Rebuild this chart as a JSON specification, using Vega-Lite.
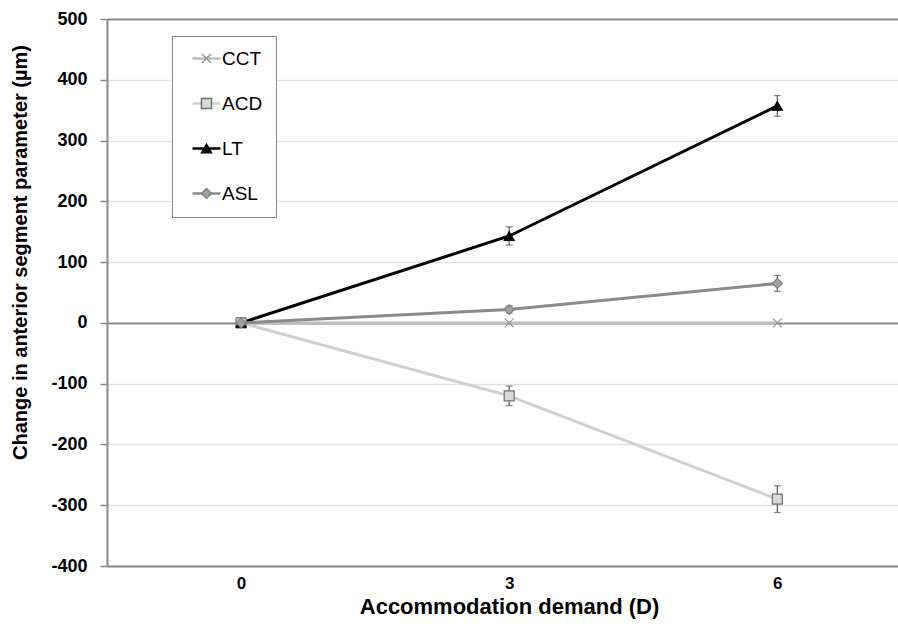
{
  "$schema": "https://vega.github.io/schema/vega-lite/v6.json",
  "width": 791,
  "height": 547,
  "autosize": {"type": "none"},
  "padding": {"left": 107, "top": 19, "right": 0, "bottom": 76},
  "background": "white",
  "data": {
    "values": [
      {"series": "CCT", "demand": 0, "value": 0, "err": 0},
      {"series": "CCT", "demand": 3, "value": 0, "err": 0},
      {"series": "CCT", "demand": 6, "value": 0, "err": 0},
      {"series": "ACD", "demand": 0, "value": 0, "err": 0},
      {"series": "ACD", "demand": 3, "value": -120, "err": 16},
      {"series": "ACD", "demand": 6, "value": -290, "err": 22},
      {"series": "LT", "demand": 0, "value": 0, "err": 0},
      {"series": "LT", "demand": 3, "value": 143, "err": 15},
      {"series": "LT", "demand": 6, "value": 357, "err": 17},
      {"series": "ASL", "demand": 0, "value": 0, "err": 0},
      {"series": "ASL", "demand": 3, "value": 22, "err": 6},
      {"series": "ASL", "demand": 6, "value": 65, "err": 13}
    ]
  },
  "config": {
    "view": {"stroke": null},
    "font": "Liberation Sans",
    "legend": {
      "orient": "none",
      "legendX": 65,
      "legendY": 17,
      "padding": 13,
      "symbolOffset": 12,
      "labelOffset": 6,
      "labelFont": "Liberation Sans",
      "labelFontSize": 19,
      "labelColor": "black",
      "rowPadding": 25,
      "symbolSize": 100,
      "symbolStrokeWidth": 1.5
    }
  },
  "encoding": {
    "x": {
      "field": "demand",
      "type": "quantitative",
      "scale": {"domain": [-1.5, 7.35], "nice": false, "zero": false},
      "axis": {
        "values": [0, 3, 6],
        "ticks": false,
        "grid": false,
        "domainColor": "#888888",
        "domainWidth": 2,
        "labelFont": "Liberation Sans",
        "labelFontSize": 17,
        "labelFontWeight": "bold",
        "labelColor": "black",
        "labelPadding": 9,
        "labelFlush": false,
        "title": "Accommodation demand (D)",
        "titleFont": "Liberation Sans",
        "titleFontSize": 22,
        "titleFontWeight": "bold",
        "titleColor": "black",
        "titlePadding": 5,
        "titleX": 402
      }
    },
    "y": {
      "field": "value",
      "type": "quantitative",
      "scale": {"domain": [-400, 500], "nice": false},
      "axis": {
        "values": [-400, -300, -200, -100, 0, 100, 200, 300, 400, 500],
        "labelExpr": "'' + datum.value",
        "grid": true,
        "gridColor": {"condition": {"test": "datum.value === 0 || datum.value === 500", "value": "#8a8a8a"}, "value": "#e2e2e2"},
        "gridWidth": {"condition": {"test": "datum.value === 0 || datum.value === 500", "value": 2}, "value": 1.5},
        "tickColor": "#888888",
        "tickSize": 7,
        "tickWidth": 1.5,
        "domainColor": "#888888",
        "domainWidth": 2,
        "labelFont": "Liberation Sans",
        "labelFontSize": 18,
        "labelFontWeight": "bold",
        "labelColor": "black",
        "labelPadding": 13,
        "title": "Change in anterior segment parameter (µm)",
        "titleFont": "Liberation Sans",
        "titleFontSize": 20,
        "titleFontWeight": "bold",
        "titleColor": "black",
        "titlePadding": 20,
        "titleY": 233
      }
    }
  },
  "layer": [
    {
      "mark": {"type": "line", "strokeWidth": 3},
      "encoding": {
        "color": {
          "field": "series",
          "type": "nominal",
          "scale": {"domain": ["LT", "ASL", "CCT", "ACD"], "range": ["#000000", "#8a8a8a", "#bdbdbd", "#d0d0d0"]},
          "legend": {
            "title": null,
            "values": ["CCT", "ACD", "LT", "ASL"],
            "labelExpr": "datum.label + '    '",
            "symbolType": "M-2.8,0H2.8",
            "symbolStrokeWidth": 2.5,
            "fillColor": "white",
            "strokeColor": "#888888"
          }
        }
      }
    },
    {
      "transform": [{"filter": "datum.err > 0"}],
      "mark": {"type": "errorbar", "ticks": {"size": 7}, "color": "#555555", "thickness": 1.2},
      "encoding": {
        "yError": {"field": "err"}
      }
    },
    {
      "mark": {"type": "point", "opacity": 1, "size": 100, "strokeWidth": 1.2},
      "encoding": {
        "shape": {
          "field": "series",
          "type": "nominal",
          "scale": {"domain": ["CCT", "ACD", "LT", "ASL"], "range": ["M-0.9,-0.9L0.9,0.9M-0.9,0.9L0.9,-0.9", "square", "triangle-up", "diamond"]},
          "legend": {"title": null, "labelOpacity": 0}
        },
        "fill": {
          "field": "series",
          "type": "nominal",
          "scale": {"domain": ["CCT", "ACD", "LT", "ASL"], "range": ["transparent", "#d9d9d9", "#000000", "#a0a0a0"]},
          "legend": {"title": null, "labelOpacity": 0}
        },
        "stroke": {
          "field": "series",
          "type": "nominal",
          "scale": {"domain": ["CCT", "ACD", "LT", "ASL"], "range": ["#999999", "#707070", "#000000", "#808080"]},
          "legend": {"title": null, "labelOpacity": 0}
        }
      }
    }
  ]
}
